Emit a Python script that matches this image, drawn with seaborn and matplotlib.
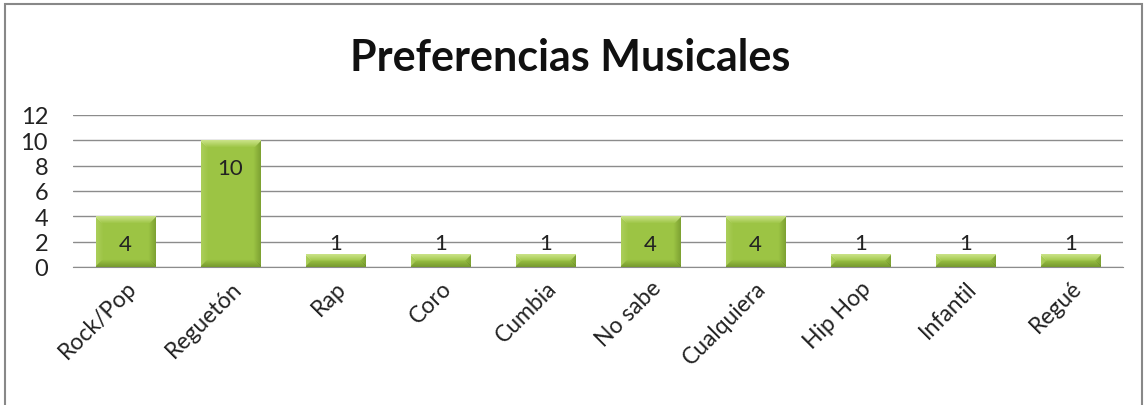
import matplotlib
matplotlib.use("Agg")
import matplotlib.pyplot as plt
import seaborn as sns
import pandas as pd
import numpy as np
from matplotlib.patches import Rectangle

categories = ["Rock/Pop", "Reguetón", "Rap", "Coro", "Cumbia", "No sabe",
              "Cualquiera", "Hip Hop", "Infantil", "Regué"]
values = [4, 10, 1, 1, 1, 4, 4, 1, 1, 1]
y_ticks = [0, 2, 4, 6, 8, 10, 12]
title = "Preferencias Musicales"

sns.set_style("white")
plt.rcParams['font.family'] = ['Lato', 'DejaVu Sans']

df = pd.DataFrame({"cat": categories, "val": values})

fig = plt.figure(figsize=(11.48, 4.06), dpi=100)
ax = fig.add_axes([73/1148, 1 - 268/406, (1123-73)/1148, (268-116)/406])

sns.barplot(data=df, x="cat", y="val", ax=ax, color="#98c23f",
            width=0.57, edgecolor="#7a9a35", linewidth=0.6, saturation=1, zorder=3)

ax.set_ylim(0, 12)
ax.set_xlim(-0.5, len(categories) - 0.5)
ax.set_yticks(y_ticks)
ax.set_yticklabels([str(t) for t in y_ticks], fontsize=17, color="#222222")
ax.yaxis.grid(True, color="#8c8c8c", linewidth=1, zorder=0)
ax.set_axisbelow(True)
for s in ["top", "right", "left"]:
    ax.spines[s].set_visible(False)
ax.spines["bottom"].set_color("#8c8c8c")
ax.tick_params(axis="y", length=0, pad=18)
ax.tick_params(axis="x", length=0, pad=7)
ax.set_xlabel("")
ax.set_ylabel("")
ax.set_xticks(range(len(categories)))
ax.set_xticklabels(categories, rotation=45, ha="right", rotation_mode="anchor",
                   fontsize=16.5, color="#222222")

# soft bevel shading for bars
fig.canvas.draw()
base = np.array([0x9c, 0xc4, 0x44]) / 255.0
light = np.array([0xd8, 0xec, 0x9c]) / 255.0
dark = np.array([0x5a, 0x7a, 0x1e]) / 255.0
for p in list(ax.patches):
    bb = p.get_window_extent()
    wpx, hpx = max(int(round(bb.width)), 2), max(int(round(bb.height)), 2)
    yy, xx = np.mgrid[0:hpx, 0:wpx].astype(float)
    b = 7.0
    dt = yy
    db = hpx - 1 - yy
    dl = xx
    dr = wpx - 1 - xx
    img = np.tile(base, (hpx, wpx, 1))
    wt = np.clip(1 - dt / b, 0, 1) * (dt <= np.minimum(dl, dr) + 1)
    wb = np.clip(1 - db / b, 0, 1) * (db <= np.minimum(dl, dr) + 1)
    wl = np.clip(1 - dl / b, 0, 1) * (dl < np.minimum(dt, db))
    wr = np.clip(1 - dr / b, 0, 1) * (dr < np.minimum(dt, db))
    img = img * (1 - 0.75 * wt[..., None]) + light * 0.75 * wt[..., None]
    img = img * (1 - 0.55 * wb[..., None]) + dark * 0.55 * wb[..., None]
    img = img * (1 - 0.25 * wl[..., None]) + light * 0.25 * wl[..., None]
    img = img * (1 - 0.45 * wr[..., None]) + dark * 0.45 * wr[..., None]
    x0, y0 = p.get_x(), p.get_y()
    im = ax.imshow(img, extent=(x0, x0 + p.get_width(), y0, y0 + p.get_height()),
                   origin="upper", aspect="auto", interpolation="bilinear", zorder=3.5)
    im.set_clip_path(p)
ax.set_xlim(-0.5, len(categories) - 0.5)
ax.set_ylim(0, 12)

for i, v in enumerate(values):
    if v >= 4:
        ax.annotate(str(v), (i, v), xytext=(0, -20), textcoords="offset points",
                    ha="center", va="center", fontsize=16, color="#222222", zorder=5)
    else:
        ax.annotate(str(v), (i, v), xytext=(0, 8), textcoords="offset points",
                    ha="center", va="center", fontsize=16, color="#222222", zorder=5)

fig.text(570/1148, 1 - 58/406, title, ha="center", va="center",
         fontsize=31, fontweight="bold", color="#111111")

fig.patches.append(Rectangle((5/1148, -0.01), 1137/1148, 1 - 5/406 + 0.01,
                             transform=fig.transFigure, fill=False,
                             edgecolor="#888888", linewidth=1.5))

fig.savefig("out.png", dpi=100)
